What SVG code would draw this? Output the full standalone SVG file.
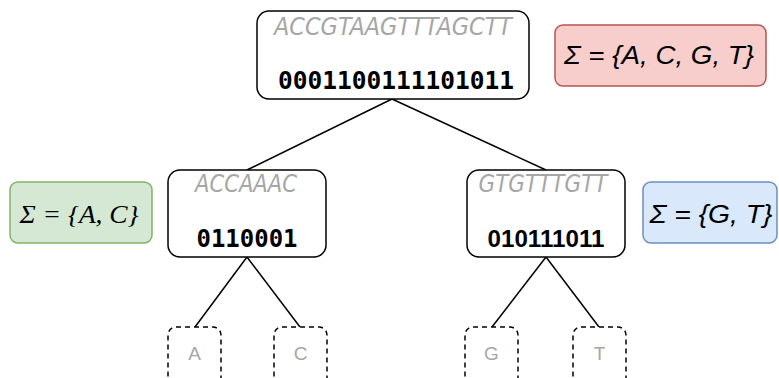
<svg xmlns="http://www.w3.org/2000/svg" width="779" height="378" viewBox="0 0 779 378">
<style>
.node{fill:#fff;stroke:#000;stroke-width:1.5}
.leaf{fill:#fff;stroke:#000;stroke-width:1.5;stroke-dasharray:5 4}
.seq{font-family:"DejaVu Sans",sans-serif;font-style:italic;font-size:24px;fill:#a6a6a6;text-anchor:middle}
.bits{font-family:"DejaVu Sans Mono",monospace;font-weight:bold;font-size:24px;fill:#000;text-anchor:middle}
.leaft{font-family:"Liberation Sans",Arial,sans-serif;font-size:19px;fill:#a6a6a6;text-anchor:middle}
.sig{font-style:italic;font-size:26px;fill:#000;text-anchor:middle}
.edge{stroke:#000;stroke-width:1.5;fill:none}
</style>
<rect width="779" height="378" fill="#fff"/>
<g id="connectors">
<line class="edge" x1="392" y1="99" x2="247" y2="170"/>
<line class="edge" x1="392" y1="99" x2="546" y2="170"/>
<line class="edge" x1="247" y1="257" x2="195" y2="327"/>
<line class="edge" x1="247" y1="257" x2="300" y2="327"/>
<line class="edge" x1="546" y1="257" x2="492" y2="327"/>
<line class="edge" x1="546" y1="257" x2="599" y2="327"/>
</g>
<g id="root">
<rect class="node" x="257" y="11" width="272" height="88" rx="12"/>
<text class="seq" x="393" y="35" textLength="238" lengthAdjust="spacingAndGlyphs">ACCGTAAGTTTAGCTT</text>
<text class="bits" x="396" y="89" textLength="236" lengthAdjust="spacingAndGlyphs">0001100111101011</text>
</g>
<g id="alphabet-root">
<rect x="555" y="25" width="211" height="61" rx="8" fill="#f8cecc" stroke="#b85450" stroke-width="1.5"/>
<text class="sig" x="659" y="64" font-family="Liberation Sans, Arial, sans-serif" textLength="190" lengthAdjust="spacingAndGlyphs">Σ = {A, C, G, T}</text>
</g>
<g id="left">
<rect class="node" x="168" y="170" width="158" height="87" rx="12"/>
<text class="seq" x="246" y="192" textLength="102" lengthAdjust="spacingAndGlyphs">ACCAAAC</text>
<text class="bits" x="247" y="247" textLength="101" lengthAdjust="spacingAndGlyphs">0110001</text>
</g>
<g id="alphabet-left">
<rect x="10" y="182" width="142" height="61" rx="8" fill="#d5e8d4" stroke="#82b366" stroke-width="1.5"/>
<text class="sig" x="79" y="223" font-family="Liberation Serif, Times New Roman, serif" font-size="27" textLength="119" lengthAdjust="spacingAndGlyphs">Σ = {A, C}</text>
</g>
<g id="right">
<rect class="node" x="467" y="170" width="158" height="87" rx="12"/>
<text class="seq" x="543" y="192" textLength="129" lengthAdjust="spacingAndGlyphs">GTGTTTGTT</text>
<text x="546" y="247" font-family="Liberation Sans, Arial, sans-serif" font-weight="bold" font-size="23" text-anchor="middle" textLength="117" lengthAdjust="spacingAndGlyphs">010111011</text>
</g>
<g id="alphabet-right">
<rect x="643" y="182" width="134" height="61" rx="8" fill="#dae8fc" stroke="#6c8ebf" stroke-width="1.5"/>
<text class="sig" x="711" y="223" font-family="Liberation Sans, Arial, sans-serif" textLength="123" lengthAdjust="spacingAndGlyphs">Σ = {G, T}</text>
</g>
<g id="leaf-A">
<rect class="leaf" x="168" y="327" width="53" height="80" rx="8"/>
<text class="leaft" x="194.5" y="360">A</text>
</g>
<g id="leaf-C">
<rect class="leaf" x="274" y="327" width="53" height="80" rx="8"/>
<text class="leaft" x="300.5" y="360">C</text>
</g>
<g id="leaf-G">
<rect class="leaf" x="465" y="327" width="53" height="80" rx="8"/>
<text class="leaft" x="491.5" y="360">G</text>
</g>
<g id="leaf-T">
<rect class="leaf" x="573" y="327" width="53" height="80" rx="8"/>
<text class="leaft" x="599.5" y="360">T</text>
</g>
</svg>
